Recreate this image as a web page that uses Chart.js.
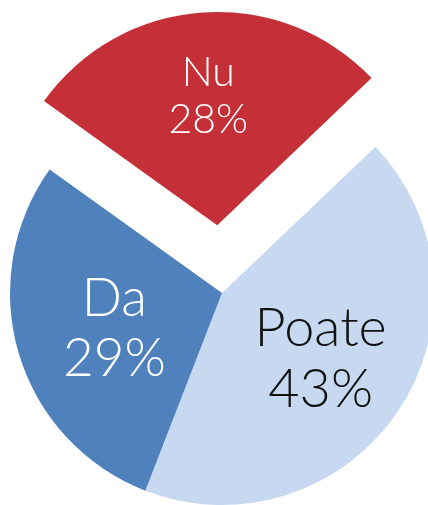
<!DOCTYPE html>
<html>
<head>
<meta charset="utf-8">
<script src="https://cdn.jsdelivr.net/npm/chart.js@4.4.0/dist/chart.umd.min.js"></script>
<style>
    html, body { margin: 0; padding: 0; background: #ffffff; }
    #canva1 { display: block; }
</style>
</head>
<body>
<canvas id="canva1" width="428" height="505"></canvas>
<script>
// dados do grafico
var categorias = ['Nu', 'Poate', 'Da'];
var valores = [28, 43, 29];
var cores = ['#C42F38', '#C6D9F0', '#4F81BD'];
var cores_texto = ['#ffffff', '#111111', '#ffffff'];
var tamanho_fonte = [41, 54, 53];
var distancia_texto = [0.61, 0.56, 0.53]; // fracao do raio
var destaque = [272, 0, 0]; // fatia "Nu" separada (o Chart.js desloca offset/4)

var myChart1;

// escreve nome + porcentagem dentro de cada fatia
var rotulosFatia = {
    id: 'rotulosFatia',
    afterDatasetsDraw: function (chart) {
        var ctx = chart.ctx;
        var meta = chart.getDatasetMeta(0);
        var total = valores.reduce(function (a, b) { return a + b; }, 0);
        meta.data.forEach(function (arc, i) {
            var p = arc.getProps(['x', 'y', 'startAngle', 'endAngle', 'outerRadius'], true);
            var meio = (p.startAngle + p.endAngle) / 2;
            var desl = destaque[i] / 4;
            var r = p.outerRadius * distancia_texto[i] + desl;
            var x = p.x + Math.cos(meio) * r;
            var y = p.y + Math.sin(meio) * r + (i == 2 ? 4 : 0);
            var tam = tamanho_fonte[i];
            var pct = Math.round(valores[i] * 100 / total) + '%';
            ctx.save();
            ctx.fillStyle = cores_texto[i];
            ctx.font = '300 ' + tam + 'px Lato, "Open Sans", sans-serif';
            ctx.textAlign = 'center';
            ctx.textBaseline = 'middle';
            ctx.fillText(categorias[i], x, y - tam * 0.57);
            ctx.fillText(pct, x, y + tam * 0.57);
            ctx.restore();
        });
    }
};

function graficoPizza() { // Cria o grafico de pizza
    var ctx = document.getElementById('canva1').getContext('2d');
    myChart1 = new Chart(ctx, {
        type: 'pie',
        data: {
            labels: categorias,
            datasets: [{
                data: valores,
                backgroundColor: cores,
                borderWidth: 0,
                offset: destaque,
                clip: false
            }]
        },
        options: {
            responsive: false,
            animation: false,
            radius: 212,
            rotation: 305.6,
            layout: { padding: { left: 16, top: 81, right: 0, bottom: 0 } },
            plugins: {
                legend: { display: false },
                tooltip: { enabled: false }
            }
        },
        plugins: [rotulosFatia]
    });
}

graficoPizza();
</script>
</body>
</html>
